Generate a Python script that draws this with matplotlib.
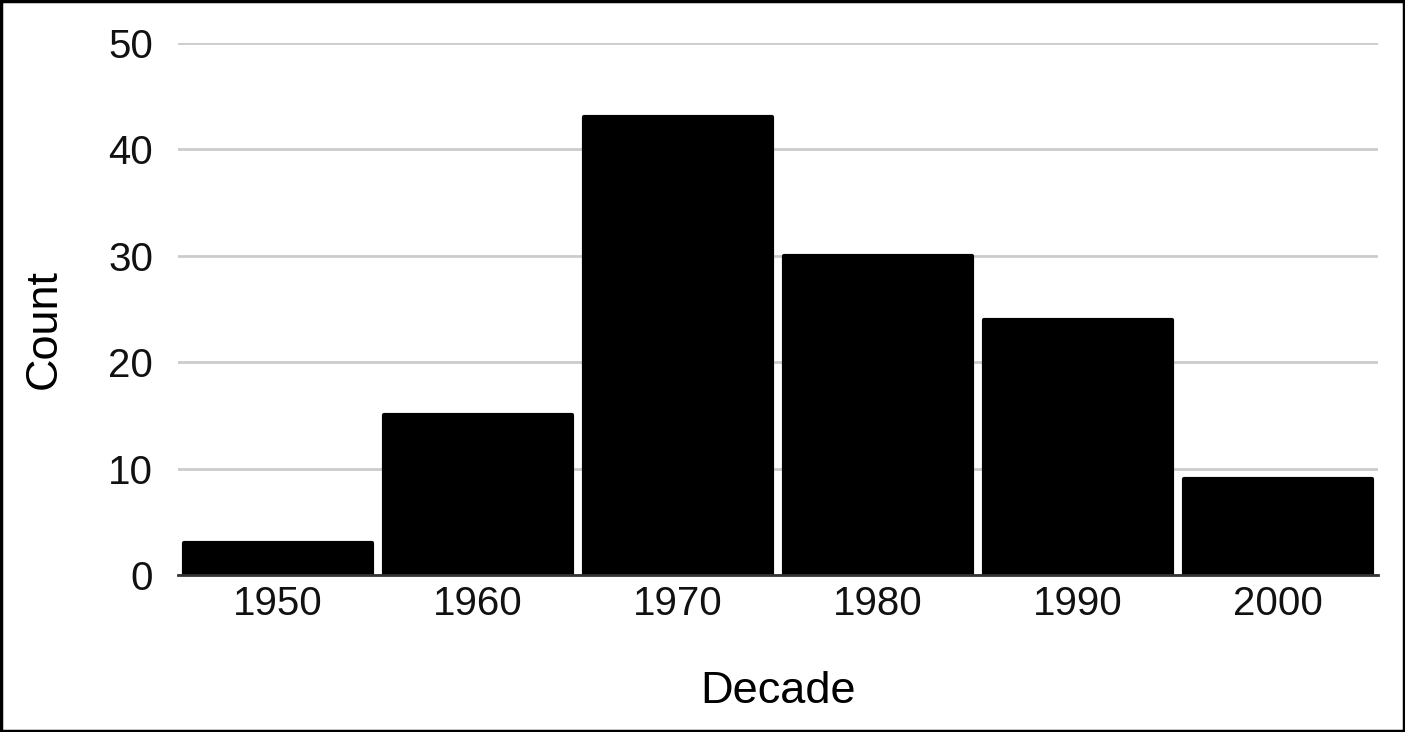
import matplotlib
matplotlib.use("Agg")
import matplotlib.pyplot as plt
from matplotlib.patches import Rectangle

decades = ["1950", "1960", "1970", "1980", "1990", "2000"]
counts = [3, 15, 43, 30, 24, 9]
yticks = [0, 10, 20, 30, 40, 50]

plt.rcParams['font.family'] = ['Liberation Sans', 'DejaVu Sans']

fig = plt.figure(figsize=(14.05, 7.32), dpi=100)
ax = fig.add_axes([0.1267, 0.2145, 0.9808 - 0.1267, 0.9413 - 0.2145])

x = list(range(len(decades)))
bars = ax.bar(x, counts, width=0.94, color='black', edgecolor='black',
              linewidth=3, zorder=3)
for b in bars:
    b.set_joinstyle('round')

ax.set_xlim(-0.5, len(decades) - 0.5)
ax.set_ylim(0, 50)
ax.set_yticks(yticks)
ax.set_xticks(x)
ax.set_xticklabels(decades)
ax.tick_params(axis='both', length=0, labelsize=29, colors='#111111')
ax.tick_params(axis='x', pad=7.5)
ax.tick_params(axis='y', pad=18)
ax.grid(axis='y', color='#cccccc', linewidth=2, zorder=0)
for s in ['top', 'right', 'left']:
    ax.spines[s].set_visible(False)
ax.spines['bottom'].set_color('#333333')
ax.spines['bottom'].set_linewidth(2)
ax.spines['bottom'].set_zorder(4)

ax.set_xlabel('Decade', fontsize=32.5, color='#000000', va='center')
ax.xaxis.set_label_coords(0.5, (575 - 692) / 532)
ax.set_ylabel('Count', fontsize=32.5, color='#000000', va='center')
ax.yaxis.set_label_coords((44 - 178) / 1200, (575 - 329) / 532)

fig.patches.append(Rectangle((0.001, 0.002), 0.998, 0.996, transform=fig.transFigure,
                             fill=False, edgecolor='black', linewidth=2.5))

fig.savefig('out.png', dpi=100)
